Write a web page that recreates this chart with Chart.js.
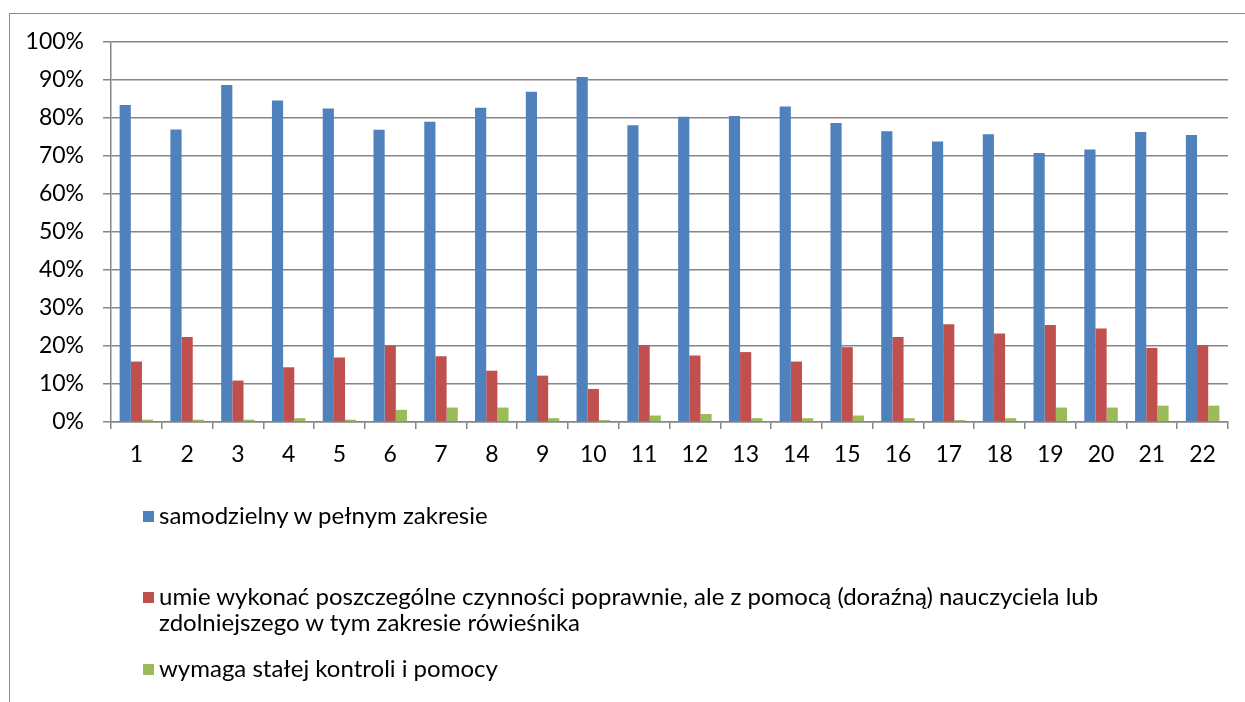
<!DOCTYPE html>
<html><head><meta charset="utf-8">
<script src="https://cdn.jsdelivr.net/npm/chart.js@4.4.0/dist/chart.umd.min.js"></script>
<style>
html,body{margin:0;padding:0;background:#fff;overflow:hidden;}
#wrap{position:relative;width:1245px;height:702px;overflow:hidden;}
#frame{position:absolute;left:9px;top:13px;width:1400px;height:800px;border-left:1px solid #8c8c8c;border-top:1px solid #8c8c8c;}
canvas{position:absolute;left:0;top:0;}
#legend{position:absolute;left:0;top:0;font-family:Lato,sans-serif;font-size:24px;color:#000;}
.item{position:absolute;left:159px;white-space:nowrap;line-height:26px;}
.sw{position:absolute;left:-16px;width:11px;height:11px;top:9px;}
</style></head>
<body>
<div id="wrap">
<div id="frame"></div>
<canvas id="c" width="1245" height="702"></canvas>
<div id="legend"></div>
</div>
<script>
const categories = ['1','2','3','4','5','6','7','8','9','10','11','12','13','14','15','16','17','18','19','20','21','22'];
const seriesNames = [
  'samodzielny w pełnym zakresie',
  ['umie wykonać poszczególne czynności poprawnie, ale z pomocą (doraźną) nauczyciela lub', 'zdolniejszego w tym zakresie rówieśnika'],
  'wymaga stałej kontroli i pomocy'
];
const samodzielny = [83.4,77.0,88.7,84.6,82.5,76.9,79.0,82.7,86.9,90.8,78.1,80.3,80.5,83.0,78.7,76.5,73.8,75.7,70.8,71.7,76.3,75.5];
const zPomoca = [15.9,22.4,10.9,14.4,17.0,20.1,17.3,13.5,12.2,8.7,20.2,17.5,18.4,15.9,19.7,22.4,25.7,23.3,25.5,24.6,19.5,20.2];
const kontrola = [0.6,0.6,0.6,1.0,0.6,3.2,3.8,3.8,1.0,0.5,1.7,2.1,1.0,1.0,1.7,1.0,0.5,1.0,3.8,3.8,4.3,4.3];
const colors = ['#4F81BD','#C0504D','#9BBB59'];
const legendTops = [502, 583, 655];

function build(){
  const gridColor = '#868686';
  const tickFont = {family:'Lato', size:23};
  const chart = new Chart(document.getElementById('c'), {
    type:'bar',
    data:{
      labels:categories,
      datasets:[
        {label:seriesNames[0], data:samodzielny, backgroundColor:colors[0]},
        {label:seriesNames[1], data:zPomoca, backgroundColor:colors[1]},
        {label:seriesNames[2], data:kontrola, backgroundColor:colors[2]}
      ]
    },
    options:{
      responsive:false, animation:false,
      datasets:{bar:{barPercentage:1, categoryPercentage:0.66}},
      layout:{padding:{left:0,right:17,top:42,bottom:230}},
      plugins:{legend:{display:false}, tooltip:{enabled:false}},
      scales:{
        x:{
          grid:{display:true, drawOnChartArea:false, drawTicks:true, tickLength:7, color:gridColor, lineWidth:1.5, offset:true},
          border:{display:true, color:gridColor, width:1.5},
          ticks:{font:tickFont, color:'#000', padding:12, maxRotation:0, autoSkip:false},
          afterFit(s){ s.height = 50; }
        },
        y:{
          min:0, max:100,
          grid:{color:gridColor, lineWidth:1.5, tickLength:8},
          border:{display:true, color:gridColor, width:1.5},
          ticks:{stepSize:10, font:tickFont, color:'#000', padding:19, callback:v=>v+'%'},
          afterFit(s){ s.width = 111; }
        }
      }
    }
  });
  const leg = document.getElementById('legend');
  chart.data.datasets.forEach((ds,i)=>{
    const it = document.createElement('div');
    it.className='item';
    it.style.top = legendTops[i]+'px';
    const sw = document.createElement('div');
    sw.className='sw'; sw.style.background = ds.backgroundColor;
    it.appendChild(sw);
    const lines = Array.isArray(ds.label)?ds.label:[ds.label];
    lines.forEach((t,j)=>{
      if(j>0) it.appendChild(document.createElement('br'));
      it.appendChild(document.createTextNode(t));
    });
    leg.appendChild(it);
  });
}
if (document.fonts && document.fonts.load) {
  Promise.all([document.fonts.load('23px Lato'), document.fonts.load('24px Lato')]).then(build, build);
} else build();
</script>
</body></html>
